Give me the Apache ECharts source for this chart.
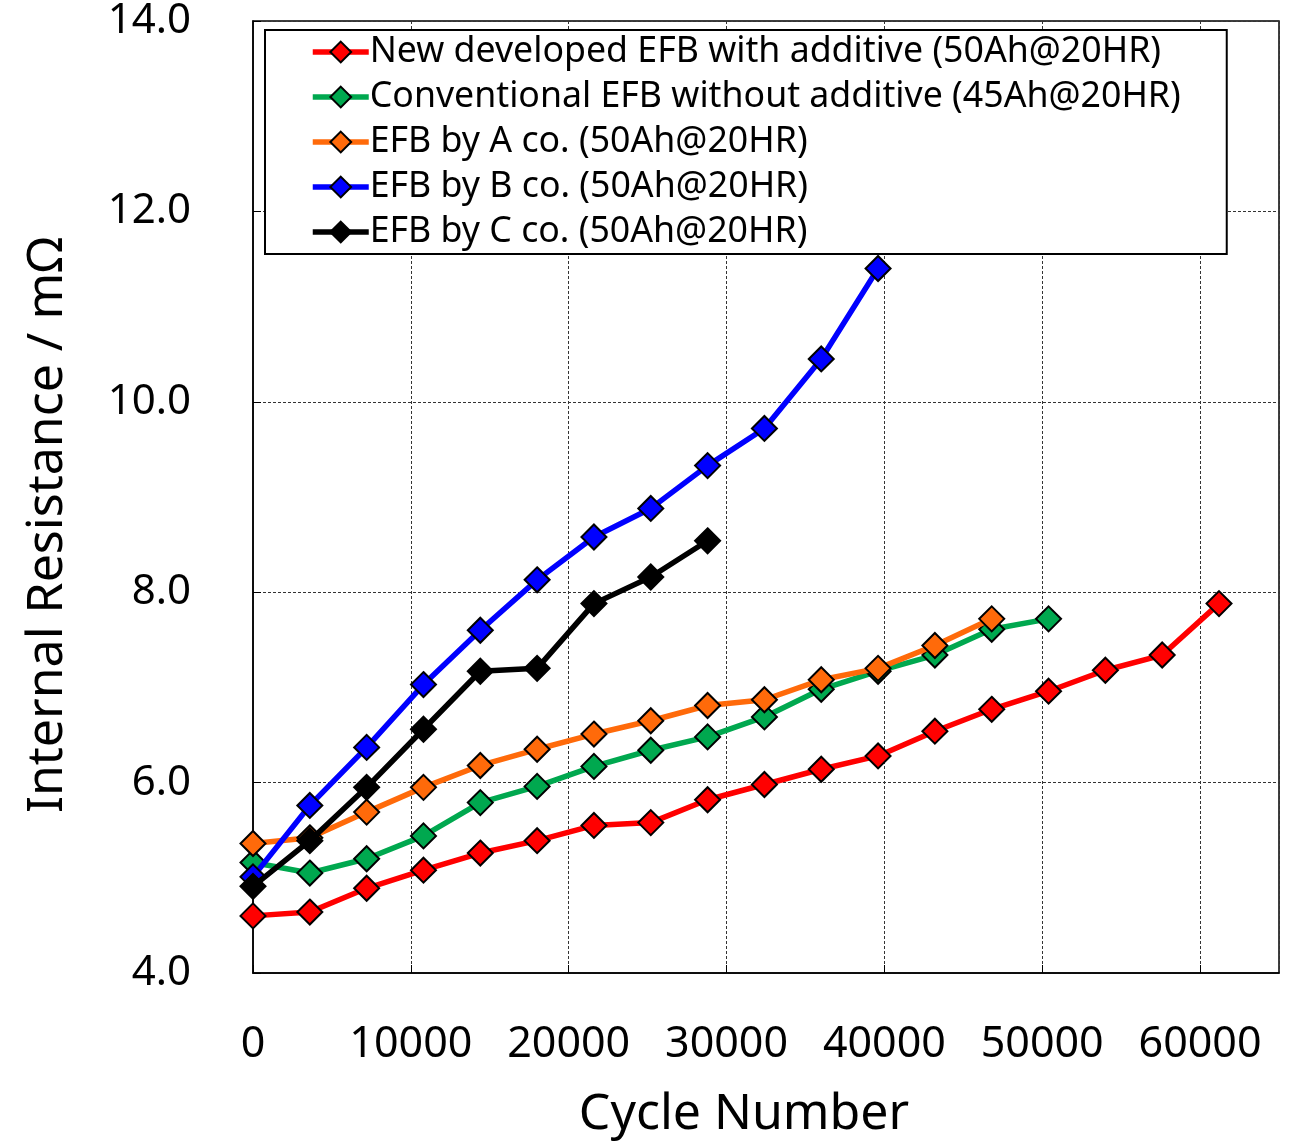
<!DOCTYPE html>
<html><head><meta charset="utf-8">
<script src="https://cdn.jsdelivr.net/npm/echarts@6/dist/echarts.min.js"></script>
<style>html,body{margin:0;padding:0;background:#fff}#c{width:1298px;height:1145px}</style>
</head><body><div id="c"></div>
<script>
const cycles = [0, 3600, 7200, 10800, 14400, 18000, 21600, 25200, 28800, 32400, 36000, 39600, 43200, 46800, 50400, 54000, 57600, 61200];
const seriesNames = [
  'New developed EFB with additive (50Ah@20HR)',
  'Conventional EFB without additive (45Ah@20HR)',
  'EFB by A co. (50Ah@20HR)',
  'EFB by B co. (50Ah@20HR)',
  'EFB by C co. (50Ah@20HR)'
];
const seriesColors = ['#ff0000', '#00a84f', '#ff6a0a', '#0000ff', '#000000'];
const newEFB = [4.60, 4.64, 4.89, 5.08, 5.26, 5.39, 5.55, 5.58, 5.82, 5.98, 6.14, 6.28, 6.54, 6.77, 6.96, 7.18, 7.34, 7.88];
const convEFB = [5.16, 5.05, 5.20, 5.44, 5.79, 5.96, 6.17, 6.34, 6.48, 6.69, 6.98, 7.17, 7.34, 7.61, 7.72];
const efbA = [5.36, 5.42, 5.69, 5.95, 6.18, 6.35, 6.51, 6.65, 6.81, 6.87, 7.08, 7.20, 7.44, 7.72];
const efbB = [5.01, 5.76, 6.37, 7.03, 7.60, 8.13, 8.58, 8.88, 9.33, 9.72, 10.45, 11.40];
const efbC = [4.91, 5.39, 5.95, 6.56, 7.17, 7.20, 7.88, 8.16, 8.54];
const yTicks = [4, 6, 8, 10, 12, 14];
const xTicks = [0, 10000, 20000, 30000, 40000, 50000, 60000];

const FONT = 'Noto Sans';
const allValues = [newEFB, convEFB, efbA, efbB, efbC];
const chart = echarts.init(document.getElementById('c'), null, {renderer: 'canvas'});
chart.setOption({
  backgroundColor: '#fff',
  animation: false,
  grid: {left: 253, top: 21, right: 19, bottom: 172, show: true, borderColor: '#000', borderWidth: 1.5,
    backgroundColor: 'transparent', containLabel: false, outerBoundsMode: 'none'},
  legend: {
    orient: 'vertical', left: 265, top: 30,
    data: seriesNames,
    backgroundColor: '#fff', borderColor: '#000', borderWidth: 2,
    padding: [4, 46, 4, 45],
    itemWidth: 56, itemHeight: 26, itemGap: 9,
    lineStyle: {width: 5.5},
    itemStyle: {borderColor: '#000', borderWidth: 2},
    textStyle: {fontFamily: FONT, fontSize: 35.7, color: '#000', lineHeight: 36, padding: [0, 0, 0, -4]}
  },
  xAxis: {
    type: 'value', min: 0, max: 65000, interval: 10000,
    name: 'Cycle Number', nameLocation: 'middle', nameGap: 117,
    nameTextStyle: {fontFamily: FONT, fontSize: 50, color: '#000', padding: [0, 44, 0, 0]},
    axisLine: {show: true, lineStyle: {color: '#000', width: 1.5}},
    axisTick: {show: true, inside: true, length: 8, lineStyle: {color: '#000'}},
    axisLabel: {fontFamily: FONT, fontSize: 43, color: '#000', margin: 50, showMaxLabel: false,
      formatter: v => xTicks.includes(v) ? String(v) : ''},
    splitLine: {show: true, lineStyle: {color: '#333', type: [3, 2], width: 1}}
  },
  yAxis: {
    type: 'value', min: 4, max: 14, interval: 2,
    name: 'Internal Resistance / mΩ', nameLocation: 'middle', nameGap: 180, nameRotate: 90,
    nameTextStyle: {fontFamily: FONT, fontSize: 50, color: '#000', padding: [0, 56, 0, 0]},
    axisLine: {show: true, lineStyle: {color: '#000', width: 1.5}},
    axisTick: {show: true, inside: true, length: 8, lineStyle: {color: '#000'}},
    axisLabel: {fontFamily: FONT, fontSize: 42, color: '#000', margin: 62,
      formatter: v => yTicks.includes(v) ? v.toFixed(1) : ''},
    splitLine: {show: true, lineStyle: {color: '#333', type: [3, 2], width: 1}}
  },
  series: seriesNames.map((name, i) => ({
    name: name, type: 'line',
    data: allValues[i].map((v, j) => [cycles[j], v]),
    symbol: 'diamond', symbolSize: 25,
    lineStyle: {color: seriesColors[i], width: 5.5},
    itemStyle: {color: seriesColors[i], borderColor: '#000', borderWidth: 2},
    z: 2 + i
  }))
});
</script></body></html>
